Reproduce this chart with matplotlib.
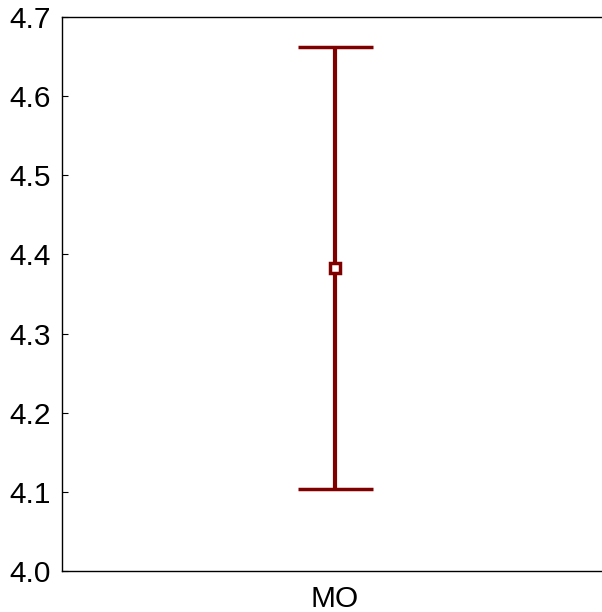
import numpy as np
import matplotlib.pyplot as plt

plt.rcParams['font.family'] = ['Liberation Sans', 'DejaVu Sans']

groups = ['MO']
means = [4.383]
errors = [0.279]
yticks = [4.0, 4.1, 4.2, 4.3, 4.4, 4.5, 4.6, 4.7]

fig = plt.figure(figsize=(6.02, 6.12), dpi=100)
ax = fig.add_axes([62 / 602, 41 / 612, 546 / 602, 554 / 612])

x = np.arange(len(groups))
ax.errorbar(x, means, yerr=errors, fmt='s', color='#800000',
            ecolor='#800000', elinewidth=3, capsize=27, capthick=3,
            markersize=6.5, markerfacecolor='white', markeredgewidth=2.5)

ax.set_xlim(-0.5, 0.5)
ax.set_ylim(4.0, 4.7)
ax.set_yticks(yticks)
ax.set_yticklabels(['{:.1f}'.format(t) for t in yticks])
ax.set_xticks(x)
ax.set_xticklabels(groups)
ax.tick_params(axis='y', direction='in', length=4, pad=8, labelsize=21.5)
ax.tick_params(axis='x', length=0, pad=10, labelsize=21.5)
for s in ax.spines.values():
    s.set_linewidth(1)

fig.savefig('out.png', dpi=100)
